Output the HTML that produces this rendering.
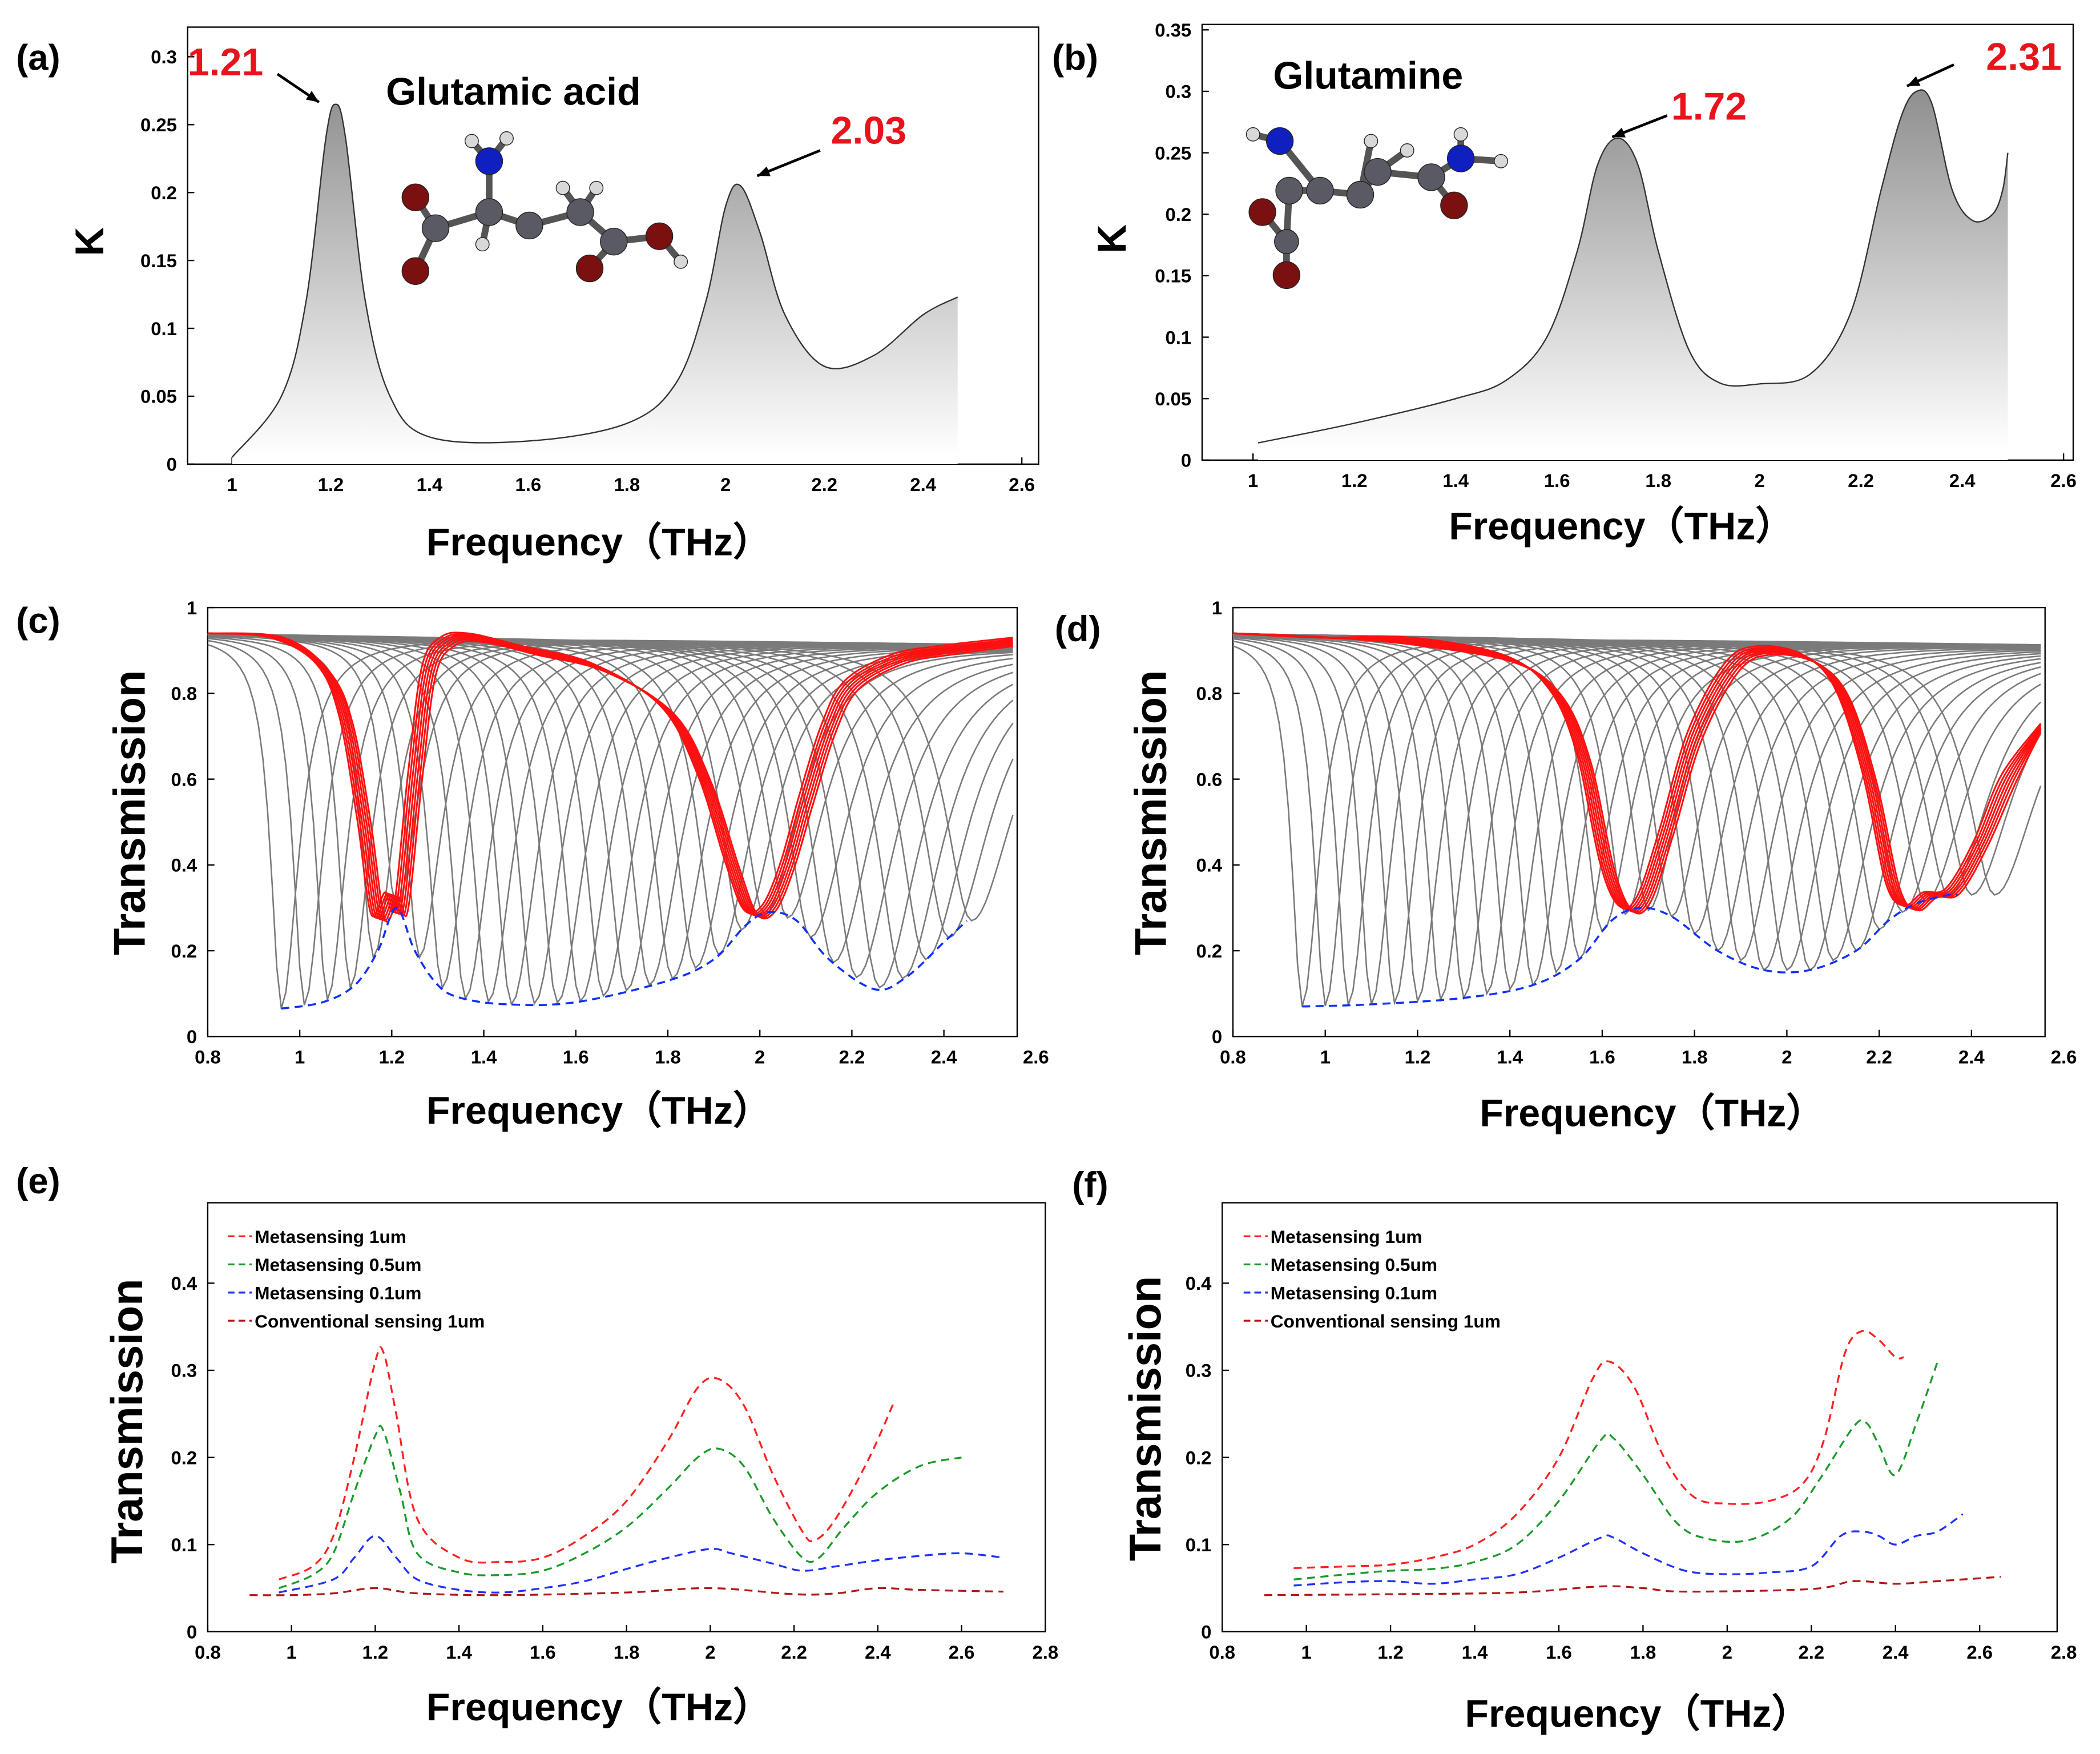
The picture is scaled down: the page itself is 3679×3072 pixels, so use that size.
<!DOCTYPE html>
<html><head><meta charset="utf-8"><style>
html,body{margin:0;padding:0;background:#fff}
svg{display:block}
text{font-family:"Liberation Sans",Arial,sans-serif}
</style></head><body>
<svg id="fig" xmlns="http://www.w3.org/2000/svg" width="3679" height="3072" viewBox="0 0 1567 1308">
<defs>
<linearGradient id="gA" gradientUnits="userSpaceOnUse" x1="0" y1="60" x2="0" y2="340"><stop offset="0" stop-color="#8c8c8c"/><stop offset="1" stop-color="#ffffff"/></linearGradient>
<linearGradient id="gB" gradientUnits="userSpaceOnUse" x1="0" y1="60" x2="0" y2="335"><stop offset="0" stop-color="#8c8c8c"/><stop offset="1" stop-color="#ffffff"/></linearGradient>
</defs>
</svg>
<script>
// ---------- DATA ----------
const aFreq=[1,1.1,1.15,1.19,1.21,1.23,1.27,1.32,1.4,1.6,1.8,1.9,1.96,2.0,2.03,2.07,2.12,2.2,2.3,2.4,2.47];
const aK=[0.005,0.05,0.12,0.24,0.265,0.24,0.12,0.05,0.02,0.017,0.03,0.06,0.12,0.19,0.205,0.17,0.11,0.072,0.08,0.11,0.123];
const bFreq=[1.01,1.2,1.4,1.5,1.58,1.64,1.68,1.72,1.76,1.8,1.86,1.92,2.0,2.1,2.18,2.24,2.28,2.31,2.34,2.38,2.42,2.46,2.48,2.49];
const bK=[0.014,0.03,0.05,0.065,0.1,0.17,0.24,0.262,0.24,0.17,0.09,0.063,0.062,0.07,0.12,0.22,0.28,0.3,0.29,0.22,0.195,0.2,0.22,0.25];
const cEnvF=[0.96,1.05,1.12,1.17,1.21,1.25,1.3,1.35,1.45,1.6,1.8,1.9,1.97,2.02,2.08,2.15,2.25,2.32,2.4,2.45];
const cEnvT=[0.065,0.08,0.12,0.2,0.3,0.2,0.12,0.09,0.075,0.08,0.13,0.18,0.26,0.29,0.27,0.18,0.11,0.14,0.22,0.27];
const cCenters=[0.96,1.01,1.06,1.11,1.16,1.21,1.26,1.31,1.36,1.41,1.46,1.51,1.56,1.61,1.66,1.71,1.76,1.81,1.86,1.91,1.96,2.01,2.06,2.11,2.16,2.21,2.26,2.31,2.36,2.41,2.46];
const dEnvF=[0.95,1.1,1.3,1.45,1.55,1.62,1.68,1.75,1.85,1.95,2.05,2.15,2.22,2.28,2.35,2.37];
const dEnvT=[0.07,0.075,0.09,0.12,0.18,0.27,0.3,0.28,0.2,0.155,0.155,0.2,0.27,0.31,0.33,0.33];
const dCenters=[0.95,1.0,1.05,1.1,1.15,1.2,1.25,1.3,1.35,1.4,1.45,1.5,1.55,1.6,1.65,1.7,1.75,1.8,1.85,1.9,1.95,2.0,2.05,2.1,2.15,2.2,2.25,2.3,2.35,2.4,2.45];
const cRedF=[0.8,0.95,1.05,1.1,1.14,1.17,1.2,1.22,1.25,1.28,1.32,1.38,1.5,1.65,1.8,1.88,1.94,1.98,2.02,2.06,2.1,2.15,2.2,2.3,2.4,2.55];
const cRedT=[0.94,0.93,0.86,0.74,0.5,0.28,0.33,0.3,0.6,0.85,0.92,0.93,0.9,0.86,0.76,0.6,0.4,0.29,0.3,0.4,0.55,0.72,0.82,0.88,0.9,0.92];
const dRedF=[0.8,1.0,1.2,1.4,1.5,1.56,1.61,1.65,1.69,1.74,1.8,1.88,1.95,2.05,2.12,2.18,2.23,2.27,2.31,2.36,2.42,2.48,2.55];
const dRedT=[0.94,0.93,0.92,0.88,0.8,0.65,0.4,0.3,0.32,0.48,0.7,0.86,0.9,0.88,0.8,0.6,0.35,0.3,0.33,0.34,0.45,0.6,0.72];
const redShifts=[-0.015,-0.01,-0.005,0,0.005,0.01,0.015];
const redOffsets=[0.02,0.012,0.006,0,-0.006,-0.012,-0.02];
const eRedF=[0.97,1.05,1.1,1.15,1.2,1.22,1.25,1.3,1.4,1.5,1.6,1.7,1.8,1.9,1.97,2.02,2.08,2.15,2.22,2.25,2.3,2.38,2.44];
const eRedT=[0.06,0.075,0.11,0.2,0.31,0.32,0.25,0.13,0.085,0.08,0.085,0.11,0.15,0.22,0.28,0.29,0.26,0.18,0.115,0.105,0.13,0.2,0.265];
const eGreenF=[0.97,1.05,1.1,1.15,1.2,1.22,1.26,1.3,1.4,1.5,1.6,1.7,1.8,1.9,1.97,2.02,2.08,2.15,2.22,2.26,2.32,2.4,2.5,2.6];
const eGreenT=[0.05,0.065,0.09,0.16,0.225,0.23,0.16,0.09,0.068,0.065,0.07,0.09,0.12,0.165,0.2,0.21,0.19,0.13,0.085,0.085,0.12,0.16,0.19,0.2];
const eBlueF=[0.97,1.1,1.15,1.2,1.25,1.3,1.4,1.5,1.6,1.7,1.8,1.9,2.0,2.05,2.15,2.22,2.3,2.4,2.5,2.6,2.7];
const eBlueT=[0.045,0.06,0.085,0.11,0.085,0.06,0.048,0.045,0.05,0.058,0.072,0.085,0.095,0.09,0.078,0.07,0.075,0.082,0.087,0.09,0.085];
const eConvF=[0.9,1.0,1.1,1.2,1.3,1.5,1.8,2.0,2.2,2.3,2.4,2.5,2.7];
const eConvT=[0.042,0.042,0.044,0.05,0.044,0.042,0.045,0.05,0.043,0.044,0.05,0.048,0.046];
const fRedF=[0.97,1.1,1.2,1.3,1.4,1.5,1.6,1.68,1.72,1.78,1.85,1.92,2.0,2.1,2.18,2.23,2.28,2.32,2.36,2.4,2.42];
const fRedT=[0.073,0.075,0.077,0.085,0.1,0.135,0.2,0.29,0.31,0.28,0.2,0.155,0.147,0.15,0.17,0.22,0.32,0.345,0.335,0.315,0.315];
const fGreenF=[0.97,1.1,1.2,1.3,1.4,1.5,1.6,1.7,1.73,1.8,1.88,1.95,2.05,2.15,2.22,2.3,2.33,2.36,2.4,2.45,2.5];
const fGreenT=[0.06,0.066,0.07,0.072,0.08,0.1,0.15,0.22,0.222,0.18,0.125,0.107,0.105,0.13,0.175,0.235,0.24,0.215,0.18,0.24,0.31];
const fBlueF=[0.97,1.1,1.2,1.3,1.4,1.5,1.6,1.7,1.73,1.8,1.9,2.0,2.1,2.2,2.27,2.32,2.36,2.4,2.45,2.5,2.56];
const fBlueT=[0.053,0.057,0.058,0.055,0.06,0.066,0.085,0.108,0.108,0.09,0.07,0.066,0.068,0.075,0.11,0.115,0.11,0.1,0.11,0.115,0.135];
const fConvF=[0.9,1.2,1.5,1.7,1.8,1.9,2.2,2.3,2.4,2.5,2.65];
const fConvT=[0.042,0.043,0.045,0.052,0.05,0.046,0.049,0.058,0.055,0.058,0.063];
const legendLabels=["Metasensing 1um","Metasensing 0.5um","Metasensing 0.1um","Conventional sensing 1um"];
const legendColors=["#ff2020","#1a9a2a","#2030ff","#b01818"];

// ---------- HELPERS ----------
const NS="http://www.w3.org/2000/svg";
const svg=document.getElementById('fig');
function mk(tag,attrs,parent){const e=document.createElementNS(NS,tag);for(const k in attrs)e.setAttribute(k,attrs[k]);(parent||svg).appendChild(e);return e;}
function txt(x,y,s,size,opts){opts=opts||{};const e=mk('text',{x:x,y:y,'font-size':size,'font-weight':opts.w||'bold',fill:opts.fill||'#000','text-anchor':opts.a||'start'});if(opts.rot)e.setAttribute('transform','rotate(-90 '+x+' '+y+')');e.textContent=s;return e;}
function interp(F,T,f){if(f<=F[0])return T[0];for(let i=1;i<F.length;i++){if(f<=F[i]){const r=(f-F[i-1])/(F[i]-F[i-1]);return T[i-1]+r*(T[i]-T[i-1]);}}return T[T.length-1];}
function axes(ax){
  const fx1=ax.fx1||ax.x1;
  const b=mk('rect',{x:ax.x0,y:ax.y0,width:fx1-ax.x0,height:ax.y1-ax.y0,fill:'none',stroke:'#000','stroke-width':1});
  
  
  ax.xt.forEach(v=>{const X=ax.sx(v);
    if(X<=fx1+0.5){const t=mk('line',{x1:X,x2:X,y1:ax.y1,y2:ax.y1-5,stroke:'#000'});
    
    }
    const l=txt(X,ax.y1+20,String(v),ax.fs||14,{a:'middle'});
    
    });
  ax.yt.forEach(v=>{const Y=ax.sy(v);
    const t=mk('line',{x1:ax.x0,x2:ax.x0+5,y1:Y,y2:Y,stroke:'#000'});
    
    
    const l=txt(ax.x0-8,Y+5,String(v),ax.fs||14,{a:'end'});
    
    });
}
function pathD(F,T,ax){return F.map((f,i)=>(i?'L':'M')+ax.sx(f).toFixed(2)+','+ax.sy(T[i]).toFixed(2)).join(' ');}
function smoothD(F,T,ax){
  const P=F.map((f,i)=>[ax.sx(f),ax.sy(T[i])]);let d='M'+P[0][0]+','+P[0][1];
  for(let i=0;i<P.length-1;i++){const p0=P[i-1]||P[i],p1=P[i],p2=P[i+1],p3=P[i+2]||P[i+1];
    d+=' C'+(p1[0]+(p2[0]-p0[0])/6).toFixed(2)+','+(p1[1]+(p2[1]-p0[1])/6).toFixed(2)+' '+(p2[0]-(p3[0]-p1[0])/6).toFixed(2)+','+(p2[1]-(p3[1]-p1[1])/6).toFixed(2)+' '+p2[0].toFixed(2)+','+p2[1].toFixed(2);}
  return d;}
function mkAx(name,x0,x1,y0,y1,fmin,fmax,tmin,tmax,xt,yt,fs){
  return {name,x0,x1,y0,y1,xt,yt,fs,sx:f=>x0+(f-fmin)/(fmax-fmin)*(x1-x0),sy:t=>y1-(t-tmin)/(tmax-tmin)*(y1-y0)};}

// ---------- PANEL A ----------
const axA=mkAx('panel-a',140,775,20,346,0.91,2.634,0,0.3218,[1,1.2,1.4,1.6,1.8,2,2.2,2.4,2.6],[0,0.05,0.1,0.15,0.2,0.25,0.3]);
axA.sy=k=>346-k*1013;
axes(axA);
{const d=smoothD(aFreq,aK,axA);
 const fill=mk('path',{d:d+' L'+axA.sx(2.47)+','+axA.sy(0)+' L'+axA.sx(1)+','+axA.sy(0)+' Z',fill:'url(#gA)',stroke:'none'});
 
 
 const ln=mk('path',{d:d,fill:'none',stroke:'#333','stroke-width':1});
 
 }
// ---------- PANEL B ----------
const axB=mkAx('panel-b',897,1547,18,343,0.8995,2.6190,0,0.3544,[1,1.2,1.4,1.6,1.8,2,2.2,2.4,2.6],[0,0.05,0.1,0.15,0.2,0.25,0.3,0.35]);
axB.sx=f=>935+(f-1)*378; axB.sy=k=>343-k*917;
axes(axB);
{const d=smoothD(bFreq,bK,axB);
 const fill=mk('path',{d:d+' L'+axB.sx(2.49)+','+axB.sy(0)+' L'+axB.sx(1.01)+','+axB.sy(0)+' Z',fill:'url(#gB)',stroke:'none'});
 
 
 const ln=mk('path',{d:d,fill:'none',stroke:'#333','stroke-width':1});
 
 }

// ---------- PANELS C, D ----------
function famPanel(name,x0,x1,fx1,envF,envT,centers,redF,redT){
  const ax=mkAx(name,x0,x1,453,773,0.8,2.6,0,1,[0.8,1,1.2,1.4,1.6,1.8,2,2.2,2.4,2.6],[0,0.2,0.4,0.6,0.8,1]);
  ax.fx1=fx1;
  axes(ax);
  centers.forEach(c=>{
    const depth=interp(envF,envT,c);const w=0.035+0.035*(c-0.95);
    const F=[],T=[];
    for(let f=0.8;f<=2.551;f+=0.01){const base=0.94-0.015*(f-0.8);
      const dl=(f-c)/(f<c?w*0.8:w*1.3);
      F.push(f);T.push(base-(base-depth)/(1+dl*dl));}
    const p=mk('path',{d:pathD(F,T,ax),fill:'none',stroke:'#7a7a7a','stroke-width':1.1});
    
    
  });
  redShifts.forEach((s,k)=>{
    const F=redF.map((f,i)=>(i===0||i===redF.length-1)?f:f+s);
    const T=redT.map((t,i)=>(i<2)?t:Math.min(0.94,t+redOffsets[k]*(t>0.5?0.5:0.3)));
    const p=mk('path',{d:smoothD(F,T,ax),fill:'none',stroke:'#ff1010','stroke-width':1.3});
    
    
  });
  const e=mk('path',{d:smoothD(envF,envT,ax),fill:'none',stroke:'#1030ff','stroke-width':1.5,'stroke-dasharray':'6,4'});
  
  
}
famPanel('panel-c',155,773,759,cEnvF,cEnvT,cCenters,cRedF,cRedT);
famPanel('panel-d',920,1540,1526,dEnvF,dEnvT,dCenters,dRedF,dRedT);

// ---------- PANELS E, F ----------
function dashPanel(name,x0,x1,fx1,series,lx){
  const ax=mkAx(name,x0,x1,897,1217,0.8,2.8,0,0.4923,[0.8,1,1.2,1.4,1.6,1.8,2,2.2,2.4,2.6,2.8],[0,0.1,0.2,0.3,0.4]);
  ax.fx1=fx1;
  axes(ax);
  series.forEach((s,i)=>{
    const p=mk('path',{d:smoothD(s[0],s[1],ax),fill:'none',stroke:legendColors[i],'stroke-width':1.4,'stroke-dasharray':'6,4'});
    
    
  });
  legendLabels.forEach((lab,i)=>{const y=922+i*21;
    const l=mk('line',{x1:lx,x2:lx+18,y1:y,y2:y,stroke:legendColors[i],'stroke-width':1.4,'stroke-dasharray':'5,3'});
    
    
    const t=txt(lx+20,y+5,lab,13.5);
    
    });
}
dashPanel('panel-e',155,780,780,[[eRedF,eRedT],[eGreenF,eGreenT],[eBlueF,eBlueT],[eConvF,eConvT]],170);
dashPanel('panel-f',912,1540,1535,[[fRedF,fRedT],[fGreenF,fGreenT],[fBlueF,fBlueT],[fConvF,fConvT]],928);

// ---------- LABELS ----------
const labs=[["(a)",12,52],["(b)",785,52],["(c)",12,472],["(d)",787,478],["(e)",12,890],["(f)",800,893]];
labs.forEach(l=>{const t=txt(l[1],l[2],l[0],27);});
const xl=[[447,414],[1210,402],[447,838],[1233,840],[447,1283],[1222,1288]];
xl.forEach(p=>{const t=txt(p[0],p[1],"Frequency（THz）",29,{a:'middle'});});
{const k1=txt(77,180,"K",30,{a:'middle',rot:true});
 const k2=txt(840,178,"K",30,{a:'middle',rot:true});}
[[108,606],[870,606],[106,1060],[866,1058]].forEach(p=>{const t=txt(p[0],p[1],"Transmission",33,{a:'middle',rot:true});});
function ann(x,y,s,ax1,ay1,ax2,ay2,nm){const t=txt(x,y,s,29,{fill:'#e8141c'});
  const l=mk('line',{x1:ax1,y1:ay1,x2:ax2,y2:ay2,stroke:'#000','stroke-width':2});
  const a=Math.atan2(ay2-ay1,ax2-ax1),h=10;
  const p=mk('polygon',{points:ax2+','+ay2+' '+(ax2-h*Math.cos(a-0.4))+','+(ay2-h*Math.sin(a-0.4))+' '+(ax2-h*Math.cos(a+0.4))+','+(ay2-h*Math.sin(a+0.4)),fill:'#000'});
  }
ann(140,56,"1.21",207,55,238,76,'peak-1-21');
ann(620,107,"2.03",612,112,565,131,'peak-2-03');
ann(1247,89,"1.72",1244,86,1203,102,'peak-1-72');
ann(1482,52,"2.31",1458,48,1423,64,'peak-2-31');
{const t=txt(288,78,"Glutamic acid",29);
 const t2=txt(950,66,"Glutamine",29);}
function molecule(name,atoms,bonds){
  const g=mk('g',{});
  bonds.forEach(b=>{mk('line',{x1:atoms[b[0]][0],y1:atoms[b[0]][1],x2:atoms[b[1]][0],y2:atoms[b[1]][1],stroke:'#555','stroke-width':5},g);});
  atoms.forEach(a=>{mk('circle',{cx:a[0],cy:a[1],r:a[3],fill:a[2],stroke:'#222','stroke-width':0.6},g);});
}
const C='#5a5a64',O='#7a1010',N='#1020c0',H='#d8d8d8';
molecule('glutamic-acid-molecule',
 [[310,147,O,10],[325,170,C,10],[310,202,O,10],[365,158,C,10],[365,120,N,10],[395,168,C,10],[433,158,C,10],[458,180,C,10],[440,200,O,10],[492,176,O,10],[352,105,H,5],[378,103,H,5],[360,182,H,5],[420,140,H,5],[445,140,H,5],[508,195,H,5]],
 [[0,1],[1,2],[1,3],[3,4],[3,5],[5,6],[6,7],[7,8],[7,9],[4,10],[4,11],[3,12],[6,13],[6,14],[9,15]]);
molecule('glutamine-molecule',
 [[942,158,O,10],[962,142,C,10],[960,205,O,10],[955,105,N,10],[985,142,C,10],[1015,145,C,10],[1028,128,C,10],[1068,132,C,10],[1090,118,N,10],[1085,153,O,10],[935,100,H,5],[1023,105,H,5],[1050,112,H,5],[1120,120,H,5],[1090,100,H,5],[960,180,C,9]],
 [[1,4],[1,15],[15,0],[15,2],[4,3],[4,5],[5,6],[6,7],[7,8],[7,9],[3,10],[5,11],[6,12],[8,13],[8,14]]);
</script>
</body></html>
